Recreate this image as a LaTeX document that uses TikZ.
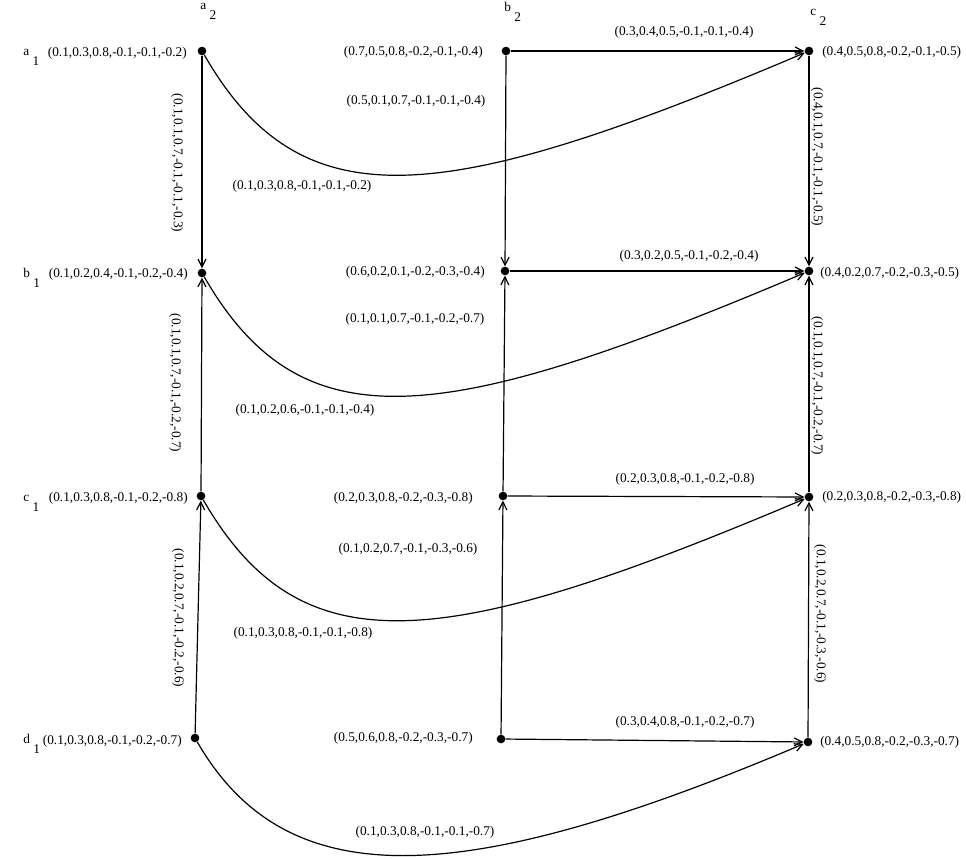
\documentclass[tikz,border=0pt]{standalone}
\usepackage{fontspec}
\setmainfont{Liberation Serif}
\usetikzlibrary{arrows.meta}
\begin{document}
\begin{tikzpicture}[x=0.75pt,y=-0.75pt,
  dot/.style={circle,fill=black,inner sep=0pt,minimum size=6.5pt},
  arr/.style={-{Straight Barb[length=6pt,width=6pt]},line width=0.9pt},
  lbl/.style={font=\fontsize{10}{12}\selectfont,inner sep=0pt},
  vlbl/.style={lbl,rotate=-90},
  nm/.style={lbl,anchor=base west}]
\useasboundingbox (0,0) rectangle (966,859);
% dots
\node[dot] (a1) at (202,51) {};
\node[dot] (b1) at (202,273) {};
\node[dot] (c1) at (201,496) {};
\node[dot] (d1) at (195,738) {};
\node[dot] (m1) at (506,51) {};
\node[dot] (m2) at (505,271) {};
\node[dot] (m3) at (503,496) {};
\node[dot] (m4) at (501,739) {};
\node[dot] (r1) at (809,51) {};
\node[dot] (r2) at (809,271) {};
\node[dot] (r3) at (809,497) {};
\node[dot] (r4) at (808,742) {};
% names
\node[nm] (na2) at (200,10) {a \raisebox{-7.5pt}{2}};
\node[nm] (nb2) at (504,12) {b \raisebox{-7.5pt}{2}};
\node[nm] (nc2) at (810,16) {c \raisebox{-7.5pt}{2}};
\node[nm] (na1) at (23,56) {a \raisebox{-7.5pt}{1}};
\node[nm] (nb1) at (23,277) {b \raisebox{-7.5pt}{1}};
\node[nm] (nc1) at (23,501) {c \raisebox{-7.5pt}{1}};
\node[nm] (nd1) at (23,743) {d \raisebox{-7.5pt}{1}};
% node values
\node[lbl,anchor=east] (ta1) at (187,53) {(0.1,0.3,0.8,-0.1,-0.1,-0.2)};
\node[lbl,anchor=east] (tb1) at (188,274) {(0.1,0.2,0.4,-0.1,-0.2,-0.4)};
\node[lbl,anchor=east] (tc1) at (188,498) {(0.1,0.3,0.8,-0.1,-0.2,-0.8)};
\node[lbl,anchor=east] (td1) at (182,741) {(0.1,0.3,0.8,-0.1,-0.2,-0.7)};
\node[lbl,anchor=east] (tm1) at (483,52) {(0.7,0.5,0.8,-0.2,-0.1,-0.4)};
\node[lbl,anchor=east] (tm2) at (485,272) {(0.6,0.2,0.1,-0.2,-0.3,-0.4)};
\node[lbl,anchor=east] (tm3) at (473,498) {(0.2,0.3,0.8,-0.2,-0.3,-0.8)};
\node[lbl,anchor=east] (tm4) at (473,738) {(0.5,0.6,0.8,-0.2,-0.3,-0.7)};
\node[lbl,anchor=west] (tr1) at (822,52) {(0.4,0.5,0.8,-0.2,-0.1,-0.5)};
\node[lbl,anchor=west] (tr2) at (820,273) {(0.4,0.2,0.7,-0.2,-0.3,-0.5)};
\node[lbl,anchor=west] (tr3) at (822,497) {(0.2,0.3,0.8,-0.2,-0.3,-0.8)};
\node[lbl,anchor=west] (tr4) at (820,742) {(0.4,0.5,0.8,-0.2,-0.3,-0.7)};
% edges
\draw[arr] (a1) -- (b1);
\draw[arr] (c1) -- (b1);
\draw[arr] (d1) -- (c1);
\draw[arr] (m1) -- (m2);
\draw[arr] (m3) -- (m2);
\draw[arr] (m4) -- (m3);
\draw[arr] (r1) -- (r2);
\draw[arr] (r3) -- (r2);
\draw[arr] (r4) -- (r3);
\draw[arr] (m1) -- (r1);
\draw[arr] (m2) -- (r2);
\draw[arr] (m3) -- (r3);
\draw[arr] (m4) -- (r4);
\draw[arr] (a1) .. controls +(100,173) and +(-368,156) .. (r1);
\draw[arr] (b1) .. controls +(100,173) and +(-368,156) .. (r2);
\draw[arr] (c1) .. controls +(100,173) and +(-368,156) .. (r3);
\draw[arr] (d1) .. controls +(93,161) and +(-342,145) .. (r4);
% edge labels
\node[vlbl] (e1) at (177,163) {(0.1,0.1,0.7,-0.1,-0.1,-0.3)};
\node[vlbl] (e2) at (175,383) {(0.1,0.1,0.7,-0.1,-0.2,-0.7)};
\node[vlbl] (e3) at (178,618) {(0.1,0.2,0.7,-0.1,-0.2,-0.6)};
\node[vlbl] (e4) at (817,157) {(0.4,0.1,0.7,-0.1,-0.1,-0.5)};
\node[vlbl] (e5) at (817,386) {(0.1,0.1,0.7,-0.1,-0.2,-0.7)};
\node[vlbl] (e6) at (820,614) {(0.1,0.2,0.7,-0.1,-0.3,-0.6)};
\node[lbl] (h1) at (684,32) {(0.3,0.4,0.5,-0.1,-0.1,-0.4)};
\node[lbl] (h2) at (689,256) {(0.3,0.2,0.5,-0.1,-0.2,-0.4)};
\node[lbl] (h3) at (685,479) {(0.2,0.3,0.8,-0.1,-0.2,-0.8)};
\node[lbl] (h4) at (685,722) {(0.3,0.4,0.8,-0.1,-0.2,-0.7)};
\node[lbl] (v1) at (416,101) {(0.5,0.1,0.7,-0.1,-0.1,-0.4)};
\node[lbl] (v2) at (415,319) {(0.1,0.1,0.7,-0.1,-0.2,-0.7)};
\node[lbl] (v3) at (408,549) {(0.1,0.2,0.7,-0.1,-0.3,-0.6)};
\node[lbl] (k1) at (302,186) {(0.1,0.3,0.8,-0.1,-0.1,-0.2)};
\node[lbl] (k2) at (305,410) {(0.1,0.2,0.6,-0.1,-0.1,-0.4)};
\node[lbl] (k3) at (303,633) {(0.1,0.3,0.8,-0.1,-0.1,-0.8)};
\node[lbl] (k4) at (425,832) {(0.1,0.3,0.8,-0.1,-0.1,-0.7)};
\end{tikzpicture}
\end{document}
